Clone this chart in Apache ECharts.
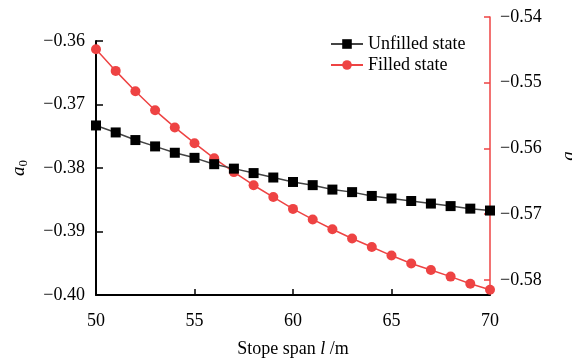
<!DOCTYPE html>
<html><head><meta charset="utf-8">
<script src="https://cdn.jsdelivr.net/npm/echarts@6/dist/echarts.min.js"></script>
<style>html,body{margin:0;padding:0;background:#fff}#c{width:572px;height:361px}</style>
</head><body><div id="c"></div>
<script>
const spans = [50,51,52,53,54,55,56,57,58,59,60,61,62,63,64,65,66,67,68,69,70];
const unfilled = [-0.3733,-0.3744,-0.3756,-0.3766,-0.3776,-0.3784,-0.3794,-0.3801,-0.3808,-0.3815,-0.3822,-0.3827,-0.3834,-0.3838,-0.3844,-0.3848,-0.3852,-0.3856,-0.3860,-0.3864,-0.3867];
const filled = [-0.5449,-0.5482,-0.5513,-0.5542,-0.5568,-0.5592,-0.5615,-0.5636,-0.5656,-0.5674,-0.5692,-0.5708,-0.5723,-0.5737,-0.5750,-0.5763,-0.5775,-0.5785,-0.5795,-0.5806,-0.5815];
const leftTicks = [-0.40,-0.39,-0.38,-0.37,-0.36];
const rightTicks = [-0.58,-0.57,-0.56,-0.55,-0.54];
const xTicks = [50,55,60,65,70];

const FONT = 'Liberation Serif';
const RED = '#ee4343';
const fmt = v => (v < 0 ? '\u2212' : '') + Math.abs(v).toFixed(2);

const chart = echarts.init(document.getElementById('c'), null, {renderer:'canvas'});
chart.setOption({
  animation: false,
  textStyle: {fontFamily: FONT, color: '#000'},
  legend: {
    orient: 'vertical', left: 325, top: 30, itemGap: 3, itemWidth: 32, itemHeight: 12,
    textStyle: {fontFamily: FONT, fontSize: 18, color: '#000'},
    data: ['Unfilled state', 'Filled state']
  },
  grid: [
    {left: 96, right: 82, top: 41, bottom: 66, containLabel: false, outerBoundsMode: 'none'},
    {left: 96, right: 82, top: 17, bottom: 66, containLabel: false, outerBoundsMode: 'none'}
  ],
  xAxis: [
    {type: 'value', gridIndex: 0, min: 50, max: 70, interval: 5,
     axisLine: {lineStyle: {color: '#000', width: 2}},
     axisTick: {inside: true, length: 6, lineStyle: {color: '#000', width: 1.5}},
     axisLabel: {fontFamily: FONT, fontSize: 18, color: '#000', margin: 17, customValues: xTicks},
     splitLine: {show: false},
     name: 'Stope span {i|l} /m', nameLocation: 'middle', nameGap: 45,
     nameTextStyle: {fontFamily: FONT, fontSize: 18, color: '#000', rich: {i: {fontStyle: 'italic', fontFamily: FONT, fontSize: 18}}}
    },
    {type: 'value', gridIndex: 1, min: 50, max: 70, show: false}
  ],
  yAxis: [
    {type: 'value', gridIndex: 0, min: -0.40, max: -0.36, interval: 0.01,
     axisLine: {show: true, lineStyle: {color: '#000', width: 2}},
     axisTick: {show: true, inside: true, length: 7, lineStyle: {color: '#000', width: 1.5}},
     axisLabel: {fontFamily: FONT, fontSize: 18, color: '#000', margin: 11, formatter: fmt},
     splitLine: {show: false},
     name: '{i|a}{s|0}', nameLocation: 'middle', nameGap: 66, nameRotate: 90,
     nameTextStyle: {rich: {i: {fontStyle: 'italic', fontFamily: FONT, fontSize: 19, color: '#000'},
                            s: {fontFamily: FONT, fontSize: 13, color: '#000', padding: [9, 0, 0, 0]}}}
    },
    {type: 'value', gridIndex: 1, position: 'right', min: -0.5823, max: -0.54,
     axisLine: {show: true, lineStyle: {color: RED, width: 1.5}},
     axisTick: {show: true, inside: true, length: 6, lineStyle: {color: RED, width: 1.5}, customValues: rightTicks},
     axisLabel: {fontFamily: FONT, fontSize: 18, color: '#000', margin: 10, formatter: fmt, customValues: rightTicks},
     splitLine: {show: false},
     name: 'a', nameLocation: 'middle', nameGap: 69, nameRotate: 90,
     nameTextStyle: {fontFamily: FONT, fontStyle: 'italic', fontSize: 19, color: '#000'}
    }
  ],
  series: [
    {name: 'Unfilled state', type: 'line', xAxisIndex: 0, yAxisIndex: 0,
     data: spans.map((x, i) => [x, unfilled[i]]),
     symbol: 'rect', symbolSize: 10,
     itemStyle: {color: '#000'}, lineStyle: {color: '#444', width: 1.5}, z: 3},
    {name: 'Filled state', type: 'line', xAxisIndex: 1, yAxisIndex: 1,
     data: spans.map((x, i) => [x, filled[i]]),
     symbol: 'circle', symbolSize: 10,
     itemStyle: {color: RED}, lineStyle: {color: RED, width: 1.5}, z: 2}
  ]
});
</script></body></html>
